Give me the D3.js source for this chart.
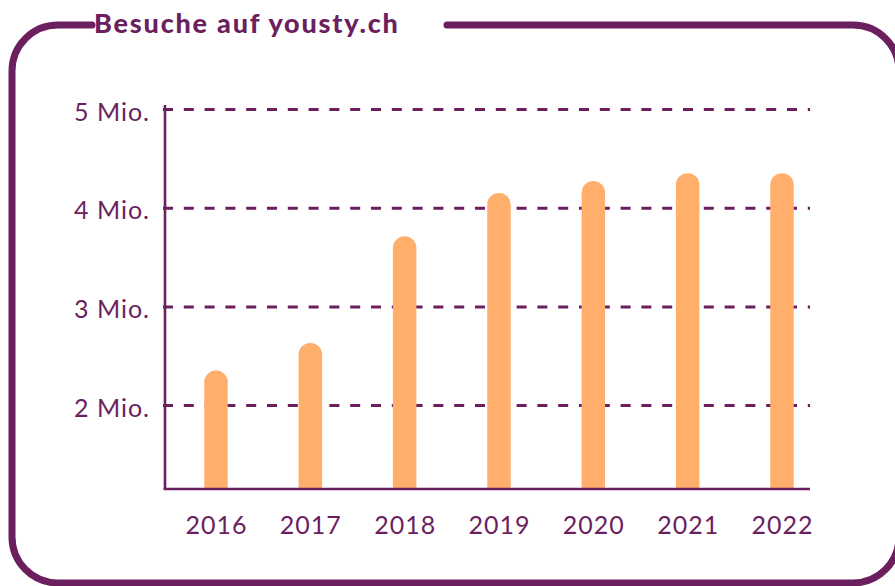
<!DOCTYPE html>
<html>
<head>
<meta charset="utf-8">
<script src="https://cdn.jsdelivr.net/npm/d3@7"></script>
<style>
  html, body { margin: 0; padding: 0; background: #ffffff; }
  svg { display: block; }
  text { font-family: Lato, "Open Sans", sans-serif; }
</style>
</head>
<body>
<svg id="chart" width="895" height="586"></svg>
<script>
// ---- data ----
const title = "Besuche auf yousty.ch";
const years = ["2016", "2017", "2018", "2019", "2020", "2021", "2022"];
const visitsMio = [2.35, 2.63, 3.71, 4.15, 4.27, 4.35, 4.35];
const yTickValues = [2, 3, 4, 5];
const yTickSuffix = " Mio.";

// ---- style ----
const purple = "#6b1f5f";
const orange = "#ffae6c";

const svg = d3.select("#chart");

// frame
const fx = 12, fy = 25, fr = 46, fsw = 7;
const fRight = 899, fBottom = 583;
const gapStart = 92, gapEnd = 447;
const fp = d3.path();
fp.moveTo(gapStart, fy);
fp.lineTo(fx + fr, fy);
fp.arcTo(fx, fy, fx, fy + fr, fr);
fp.lineTo(fx, fBottom - fr);
fp.arcTo(fx, fBottom, fx + fr, fBottom, fr);
fp.lineTo(fRight - fr, fBottom);
fp.arcTo(fRight, fBottom, fRight, fBottom - fr, fr);
fp.lineTo(fRight, fy + fr);
fp.arcTo(fRight, fy, fRight - fr, fy, fr);
fp.lineTo(gapEnd, fy);
svg.append("path")
  .attr("d", fp.toString())
  .attr("fill", "none")
  .attr("stroke", purple)
  .attr("stroke-width", fsw)
  .attr("stroke-linecap", "round")
  .attr("stroke-linejoin", "round");

// title
svg.append("text")
  .attr("x", 94)
  .attr("y", 33)
  .attr("fill", purple)
  .attr("font-size", 27)
  .attr("font-weight", 900)
  .attr("letter-spacing", 1.8)
  .attr("font-family", "Lato, sans-serif")
  .text(title);

// scales
const axisX = 165, plotRight = 810, baseY = 489, topY = 109;
const y = d3.scaleLinear().domain([1.15, 5]).range([baseY, topY]);
const x = d3.scalePoint().domain(years).range([216, 782]);

// y axis with gridlines
const yAxis = d3.axisLeft(y)
  .tickValues(yTickValues)
  .tickSize(-(plotRight - axisX))
  .tickPadding(15)
  .tickFormat(d => d + yTickSuffix);

const gy = svg.append("g")
  .attr("transform", `translate(${axisX},0)`)
  .call(yAxis);
gy.select(".domain").remove();
gy.selectAll(".tick line")
  .attr("x1", -2)
  .attr("stroke", purple)
  .attr("stroke-width", 3)
  .attr("stroke-dasharray", "10,10.8");
gy.selectAll(".tick text")
  .attr("fill", purple)
  .attr("font-size", 25)
  .attr("font-family", "Lato, sans-serif")
  .attr("letter-spacing", 1)
  .attr("dy", "0.45em");

// bars (rounded tops)
const bw = 23.5;
function barPath(cx, top, bottom) {
  const r = bw / 2;
  const p = d3.path();
  p.moveTo(cx - r, bottom);
  p.lineTo(cx - r, top + r);
  p.arc(cx, top + r, r, Math.PI, 0, false);
  p.lineTo(cx + r, bottom);
  p.closePath();
  return p.toString();
}
svg.append("g")
  .selectAll("path")
  .data(years.map((yr, i) => ({ yr, v: visitsMio[i] })))
  .join("path")
  .attr("d", d => barPath(x(d.yr), y(d.v), y.range()[0]))
  .attr("fill", orange);

// axis lines
svg.append("line")
  .attr("x1", axisX).attr("x2", axisX)
  .attr("y1", 105).attr("y2", baseY + 1)
  .attr("stroke", purple).attr("stroke-width", 2.6);
svg.append("line")
  .attr("x1", axisX - 1.3).attr("x2", plotRight)
  .attr("y1", baseY).attr("y2", baseY)
  .attr("stroke", purple).attr("stroke-width", 2.6);

// x axis labels
const xAxis = d3.axisBottom(x).tickSize(0).tickPadding(0);
const gx = svg.append("g")
  .attr("transform", `translate(0,${baseY})`)
  .call(xAxis);
gx.select(".domain").remove();
gx.selectAll(".tick text")
  .attr("fill", purple)
  .attr("font-size", 25)
  .attr("font-family", "Lato, sans-serif")
  .attr("letter-spacing", 1)
  .attr("y", 45)
  .attr("dy", 0);
</script>
</body>
</html>
